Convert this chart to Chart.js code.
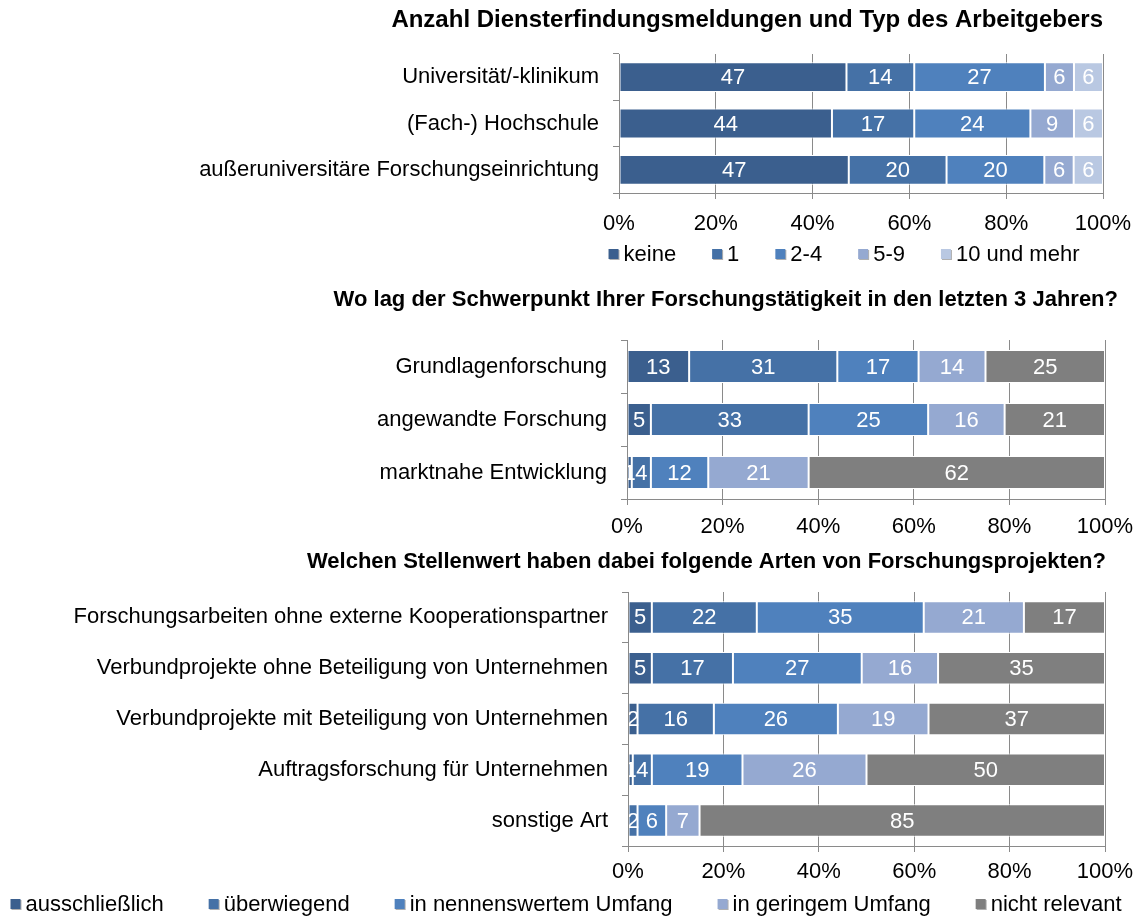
<!DOCTYPE html>
<html>
<head>
<meta charset="utf-8">
<script src="https://cdn.jsdelivr.net/npm/chart.js@4.4.0/dist/chart.umd.min.js"></script>
<style>
  html, body { margin: 0; padding: 0; background: #fff; }
  #page { position: relative; width: 1147px; height: 922px; overflow: hidden; }
  #page canvas { position: absolute; left: 0; }
</style>
</head>
<body>
<div id="page">
  <canvas id="chartEmp" width="1147" height="270" style="top:0px"></canvas>
  <canvas id="chartFocus" width="1147" height="270" style="top:280px"></canvas>
  <canvas id="chartProj" width="1147" height="377" style="top:545px"></canvas>
</div>
<script>
// --- data (percent) ---
var xTicks = [0, 20, 40, 60, 80, 100];

// chart 1: Diensterfindungsmeldungen by employer
var empTitle = 'Anzahl Diensterfindungsmeldungen und Typ des Arbeitgebers';
var empCategories = ['Universität/-klinikum', '(Fach-) Hochschule', 'außeruniversitäre Forschungseinrichtung'];
var empNames = ['keine', '1', '2-4', '5-9', '10 und mehr'];
var empKeine = [47, 44, 47];
var empEins = [14, 17, 20];
var empZweiVier = [27, 24, 20];
var empFuenfNeun = [6, 9, 6];
var empZehnPlus = [6, 6, 6];

// shared series names for chart 2 and 3
var levelNames = ['ausschließlich', 'überwiegend', 'in nennenswertem Umfang', 'in geringem Umfang', 'nicht relevant'];

// chart 2: Schwerpunkt der Forschung
var focusTitle = 'Wo lag der Schwerpunkt Ihrer Forschungstätigkeit in den letzten 3 Jahren?';
var focusCategories = ['Grundlagenforschung', 'angewandte Forschung', 'marktnahe Entwicklung'];
var focusAusschl = [13, 5, 1];
var focusUeberw = [31, 33, 4];
var focusNennensw = [17, 25, 12];
var focusGering = [14, 16, 21];
var focusNicht = [25, 21, 62];

// chart 3: Arten von Forschungsprojekten
var projTitle = 'Welchen Stellenwert haben dabei folgende Arten von Forschungsprojekten?';
var projCategories = [
  'Forschungsarbeiten ohne externe Kooperationspartner',
  'Verbundprojekte ohne Beteiligung von Unternehmen',
  'Verbundprojekte mit Beteiligung von Unternehmen',
  'Auftragsforschung für Unternehmen',
  'sonstige Art'
];
var projAusschl = [5, 5, 2, 1, 0];
var projUeberw = [22, 17, 16, 4, 2];
var projNennensw = [35, 27, 26, 19, 6];
var projGering = [21, 16, 19, 26, 7];
var projNicht = [17, 35, 37, 50, 85];

// --- styles ---
var blueShades = ['#3b5f8e', '#4571a6', '#4f81bd', '#95a9d1', '#b9c8e2'];
var levelColors = ['#3b5f8e', '#4571a6', '#4f81bd', '#95a9d1', '#7f7f7f'];
var FONT = '"Liberation Sans", Arial, sans-serif';
var AXIS_GRAY = '#8a8a8a';

Chart.defaults.font.family = FONT;
Chart.defaults.font.size = 22;
Chart.defaults.color = '#000';

// white value labels in the middle of each segment
var barValues = {
  id: 'barValues',
  afterDatasetsDraw: function(chart) {
    var ctx = chart.ctx;
    ctx.save();
    ctx.font = '22px ' + FONT;
    ctx.fillStyle = '#fff';
    ctx.textAlign = 'center';
    ctx.textBaseline = 'middle';
    chart.data.datasets.forEach(function(ds, i) {
      chart.getDatasetMeta(i).data.forEach(function(bar, j) {
        var v = ds.shown[j];
        if (!v) return;
        ctx.fillText(String(v), (bar.x + bar.base) / 2, bar.y + 1);
      });
    });
    ctx.restore();
  }
};

// small-square legend laid out in one row like the original
var boxLegend = {
  id: 'boxLegend',
  afterDraw: function(chart, args, opts) {
    var ctx = chart.ctx;
    var sets = chart.data.datasets;
    ctx.save();
    ctx.font = '22px ' + FONT;
    ctx.textBaseline = 'middle';
    var widths = sets.map(function(ds) { return ctx.measureText(ds.label).width; });
    var total = opts.gap * (sets.length - 1);
    widths.forEach(function(w) { total += opts.box + opts.textGap + w; });
    var x = opts.centerX - total / 2;
    sets.forEach(function(ds, i) {
      var top = opts.y - opts.box / 2 - 1;
      ctx.fillStyle = '#b0b0b0';
      ctx.fillRect(x + 1, top + 1, opts.box, opts.box);
      ctx.fillStyle = ds.backgroundColor;
      ctx.fillRect(x, top, opts.box, opts.box);
      x += opts.box + opts.textGap;
      ctx.fillStyle = '#000';
      ctx.fillText(ds.label, x, opts.y);
      x += widths[i] + opts.gap;
    });
    ctx.restore();
  }
};

function makeChart(id, cfg) {
  var n = cfg.categories.length;
  var rowSums = [];
  for (var j = 0; j < n; j++) {
    var s = 0;
    cfg.series.forEach(function(vals) { s += vals[j]; });
    rowSums.push(s);
  }
  // 100% stacked: segments scaled to the row total, labels keep the rounded values
  var datasets = cfg.series.map(function(vals, k) {
    return {
      label: cfg.names[k],
      data: vals.map(function(v, j) { return v / rowSums[j] * 100; }),
      shown: vals,
      backgroundColor: cfg.colors[k],
      borderColor: '#ffffff',
      borderWidth: 1,
      borderSkipped: false,
      barPercentage: cfg.barPct,
      categoryPercentage: 1
    };
  });

  return new Chart(document.getElementById(id), {
    type: 'bar',
    data: { labels: cfg.categories, datasets: datasets },
    plugins: [barValues, boxLegend],
    options: {
      indexAxis: 'y',
      responsive: false,
      animation: false,
      devicePixelRatio: 1,
      layout: { padding: cfg.padding },
      plugins: {
        legend: { display: false },
        tooltip: { enabled: false },
        title: {
          display: true,
          text: cfg.title,
          align: 'end',
          color: '#000',
          font: { size: cfg.titleSize, weight: 'bold' },
          padding: cfg.titlePad
        },
        boxLegend: cfg.legend || false
      },
      scales: {
        x: {
          stacked: true,
          min: 0,
          max: 100,
          afterBuildTicks: function(scale) {
            scale.ticks = xTicks.map(function(v) { return { value: v }; });
          },
          afterFit: function(scale) { scale.paddingRight = 42; },
          ticks: {
            padding: cfg.xTickPad,
            maxRotation: 0,
            callback: function(v) { return v + '%'; }
          },
          grid: { color: AXIS_GRAY, tickLength: 6 },
          border: { color: AXIS_GRAY, z: 1 }
        },
        y: {
          stacked: true,
          afterFit: function(scale) { scale.width = cfg.plotLeft; },
          ticks: { padding: 14, autoSkip: false },
          grid: { drawOnChartArea: false, color: AXIS_GRAY, tickLength: 6 },
          border: { color: AXIS_GRAY, z: 1 }
        }
      }
    }
  });
}

makeChart('chartEmp', {
  title: empTitle,
  titleSize: 24,
  categories: empCategories,
  names: empNames,
  series: [empKeine, empEins, empZweiVier, empFuenfNeun, empZehnPlus],
  colors: blueShades,
  barPct: 0.645,
  plotLeft: 619,
  padding: { top: 0, right: 44, bottom: 21, left: 0 },
  titlePad: { top: 6, bottom: 19.2 },
  xTickPad: 11.8,
  legend: { centerX: 844, y: 255, box: 10, textGap: 5, gap: 36 }
});

makeChart('chartFocus', {
  title: focusTitle,
  titleSize: 22,
  categories: focusCategories,
  names: levelNames,
  series: [focusAusschl, focusUeberw, focusNennensw, focusGering, focusNicht],
  colors: levelColors,
  barPct: 0.623,
  plotLeft: 627,
  padding: { top: 0, right: 29, bottom: 0.6, left: 0 },
  titlePad: { top: 6.3, bottom: 27.3 },
  xTickPad: 9
});

makeChart('chartProj', {
  title: projTitle,
  titleSize: 22,
  categories: projCategories,
  names: levelNames,
  series: [projAusschl, projUeberw, projNennensw, projGering, projNicht],
  colors: levelColors,
  barPct: 0.64,
  plotLeft: 628,
  padding: { top: 0, right: 41, bottom: 30, left: 0 },
  titlePad: { top: 3.8, bottom: 16.8 },
  xTickPad: 6.8,
  legend: { centerX: 566, y: 360, box: 10, textGap: 5, gap: 45 }
});
</script>
</body>
</html>
